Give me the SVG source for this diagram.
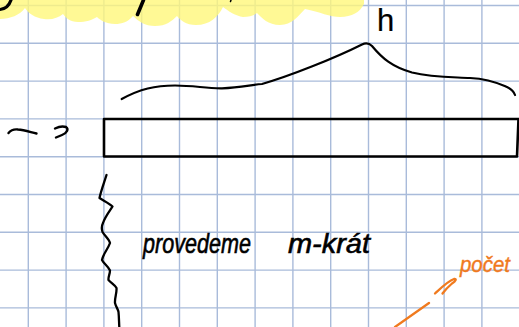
<svg xmlns="http://www.w3.org/2000/svg" width="519" height="327" viewBox="0 0 519 327">
<style>
.grid line{stroke:#a9bbda;stroke-width:1.4}
.ink{fill:none;stroke:#000;stroke-linecap:round;stroke-linejoin:round}
.orange{fill:none;stroke:#f07a1e;stroke-width:2.3;stroke-linecap:round;stroke-linejoin:round}
.hand{font-family:"Liberation Sans",Arial,sans-serif;font-style:italic;fill:#000;stroke:#000;stroke-width:0.6}
</style>
<rect width="519" height="327" fill="#ffffff"/>
<g class="grid">
<line x1="28.3" y1="0" x2="28.3" y2="327"/>
<line x1="66.1" y1="0" x2="66.1" y2="327"/>
<line x1="103.9" y1="0" x2="103.9" y2="327"/>
<line x1="141.7" y1="0" x2="141.7" y2="327"/>
<line x1="179.5" y1="0" x2="179.5" y2="327"/>
<line x1="217.3" y1="0" x2="217.3" y2="327"/>
<line x1="255.1" y1="0" x2="255.1" y2="327"/>
<line x1="292.9" y1="0" x2="292.9" y2="327"/>
<line x1="330.7" y1="0" x2="330.7" y2="327"/>
<line x1="368.5" y1="0" x2="368.5" y2="327"/>
<line x1="406.3" y1="0" x2="406.3" y2="327"/>
<line x1="444.1" y1="0" x2="444.1" y2="327"/>
<line x1="481.9" y1="0" x2="481.9" y2="327"/>
<line x1="0" y1="5.5" x2="519" y2="5.5"/>
<line x1="0" y1="43.3" x2="519" y2="43.3"/>
<line x1="0" y1="81.1" x2="519" y2="81.1"/>
<line x1="0" y1="118.9" x2="519" y2="118.9"/>
<line x1="0" y1="156.7" x2="519" y2="156.7"/>
<line x1="0" y1="194.5" x2="519" y2="194.5"/>
<line x1="0" y1="232.3" x2="519" y2="232.3"/>
<line x1="0" y1="270.1" x2="519" y2="270.1"/>
<line x1="0" y1="307.9" x2="519" y2="307.9"/>
</g>
<g id="highlight">
<path d="M0,0 H364 L364,4 C360,12 352,17 340,17 C330,17 320,12 305,9 C298,16 292,25 280,25 C268,25 262,18 257,13 C253,16 249,17 243,17 C236,16 228,11 223,7 C218,17 210,25 196,25 C186,25 180,20 177,16 C172,21 166,26 155,26 C145,26 138,21 133,16 C128,22 122,24 115,24 C106,24 100,20 97,17 C92,20 86,22 78,22 C70,22 66,18 63,14 C58,18 52,20 44,19 C35,18 28,13 25,8 C20,15 10,19 0,19 Z" fill="#fff87a" fill-opacity="0.8"/>
<path class="ink" d="M0,9.5 C5,9 9,6 11,0" stroke-width="3.2"/>
<path class="ink" d="M143.5,0 L137.5,14.5" stroke-width="3.6"/>
<path class="ink" d="M231,0 L230.5,1.5" stroke-width="1.5" stroke="#555"/>
</g>
<g id="bar">
<path class="ink" d="M104,119 L518.5,119 L517,156.5 L104,156.5 Z" stroke-width="2.6"/>
</g>
<g id="brace">
<path class="ink" stroke-width="2.2" d="M121.7,99 C140,89 155,85.5 175,85.5 C195,85.5 205,88.5 222,88.3 C240,88 250,85 262,84 C290,76 335,58 362,44.5 C366,42.5 369,43 372,46 C382,58 392,67 412,72.5 C432,77.5 450,77 470,78 C490,79 500,84 507,87 C511,89 514,92 515,95"/>
<text class="hand" x="377" y="31" font-size="31" style="font-style:normal;stroke-width:0.2">h</text>
</g>
<g id="connectors">
<path class="ink" stroke-width="2.4" d="M8.5,133 C11,130 14,129 18,129.5 C24,130 30,132 36.5,133.5"/>
<path class="ink" stroke-width="2.4" d="M55,128.5 C58,127 63,126 66,127 C69,129 67,133 62,135 L56,137.5"/>
<path class="ink" stroke-width="2.3" d="M106.5,175 C104,183 101,191 99.5,198 C104,201 109,203 112.5,206.5 C109,212 105,217 103,223 C101.5,226 101.5,229 102.5,232 C105,236 109,239 110,243 C108,249 103,254 102,260 C104,264 108,266 110,270.5 C110,274 108,277 108.5,280 C111,283 115,285 116.5,288 C117,293 114.5,298 115,303 C116,307 118,309 118.5,312 C119,317 119,322 119.3,327"/>
<path class="orange" d="M395,327 L429,303"/>
<path class="orange" d="M435,293.5 C442,287 448,281 454,279 C457,278.5 456,281 452,283.5 C448,287 445,290 442.5,293.5"/>
</g>
<g id="label">
<text class="hand" x="143" y="253" font-size="28" textLength="108" lengthAdjust="spacingAndGlyphs">provedeme</text>
<text class="hand" x="288" y="253" font-size="28" textLength="82" lengthAdjust="spacingAndGlyphs">m-krát</text>
</g>
<g id="note">
<text x="460" y="272" font-size="22" font-family="Liberation Sans,Arial,sans-serif" font-style="italic" fill="#f07a1e" stroke="#f07a1e" stroke-width="0.4" textLength="50" lengthAdjust="spacingAndGlyphs">počet</text>
</g>
</svg>
